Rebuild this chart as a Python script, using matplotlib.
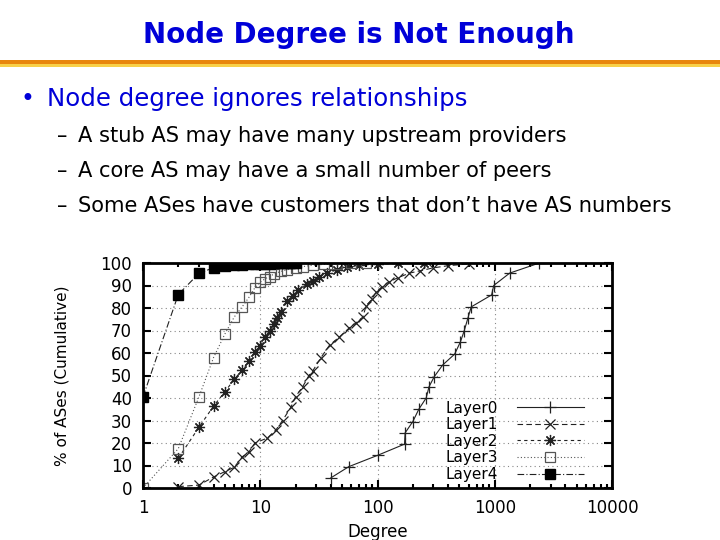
import matplotlib
matplotlib.use("Agg")
import matplotlib.pyplot as plt
from matplotlib.patches import Rectangle
from matplotlib.ticker import LogLocator, NullFormatter, FixedLocator, FixedFormatter

TITLE = "Node Degree is Not Enough"
BULLET = "Node degree ignores relationships"
SUB_BULLETS = ["A stub AS may have many upstream providers",
               "A core AS may have a small number of peers",
               "Some ASes have customers that don\u2019t have AS numbers"]

LAYER0_DEG = [40, 57, 100, 170, 172, 200, 225, 260, 275, 305, 360, 455, 510, 550,
              590, 630, 940, 980, 1340, 2400]
LAYER0_PCT = [4.5, 9.5, 14.5, 19.5, 24.5, 29.5, 35, 40, 45, 49.5, 54.7, 59.5, 65, 70,
              75.5, 80.5, 85.8, 90, 95.5, 100]

LAYER1_DEG = [2, 3, 4, 5, 6, 7, 8, 9, 11.5, 13.6, 15.5, 18.3, 20, 23, 26, 28, 33, 39,
              47, 57, 66, 75, 80, 90, 97, 110, 126, 150, 187, 230, 296, 400, 600]
LAYER1_PCT = [0.6, 1.3, 4.9, 7.3, 9.2, 13.8, 16, 20, 22.2, 25.8, 30, 36, 40.6, 45, 50,
              52, 58, 63.5, 67, 71, 73.5, 76, 81, 84, 87, 89.5, 91.7, 93.5, 95.5, 96.5,
              97.8, 98.8, 99.6]

LAYER2_DEG = [2, 3, 4, 5, 6, 7, 8, 9, 10, 11, 12, 13, 14, 15, 17, 19, 21, 25, 28, 32,
              37, 45, 55, 70, 100, 150, 250]
LAYER2_PCT = [13.2, 27, 36.4, 42.8, 48.3, 52.4, 56.4, 60.6, 63, 67, 70, 73, 75.5, 78.4,
              83, 85.5, 88, 90.5, 92, 94, 95.5, 97, 98, 99, 99.5, 99.8, 100]

LAYER3_DEG = [1, 2, 3, 4, 5, 6, 7, 8, 9, 10, 11, 12, 13, 15, 17, 20, 23, 28, 35, 45,
              60, 80]
LAYER3_PCT = [0, 17.5, 40.5, 58, 68.5, 76, 80.5, 84.7, 89, 91.5, 93, 94, 95, 96.3, 97,
              97.8, 98.4, 99, 99.4, 99.7, 100, 100]

LAYER4_DEG = [1, 2, 3, 4, 5, 6, 7, 8, 9, 10, 11, 12, 13, 14, 15, 16, 17, 18, 19, 20]
LAYER4_PCT = [40.5, 86, 95.4, 97.9, 98.6, 99, 99.2, 99.4, 99.5, 99.6, 99.7, 99.7,
              99.8, 99.8, 99.8, 99.9, 99.9, 99.9, 100, 100]

Y_TICKS = [0, 10, 20, 30, 40, 50, 60, 70, 80, 90, 100]
X_TICKS = [1, 10, 100, 1000, 10000]
X_LABELS = ["1", "10", "100", "1000", "10000"]

W, H = 720, 540
BLUE = "#0000d8"


def fy(py):
    # pixel row (from top) -> figure fraction
    return 1 - py / H


fig = plt.figure(figsize=(7.2, 5.4), dpi=100)
fig.patch.set_facecolor("white")

fig.text(359 / W, fy(35), TITLE, ha="center", va="center", fontsize=20,
         fontweight="bold", color=BLUE)
fig.add_artist(Rectangle((0, fy(63.5)), 1, 3.5 / H, transform=fig.transFigure,
                         facecolor="#e8860c", edgecolor="none"))
fig.add_artist(Rectangle((0, fy(66.5)), 1, 3 / H, transform=fig.transFigure,
                         facecolor="#f8d048", edgecolor="none"))

fig.text(20 / W, fy(99), "\u2022", ha="left", va="center", fontsize=17, color=BLUE)
fig.text(47 / W, fy(99), BULLET, ha="left", va="center", fontsize=17.6, color=BLUE)
for i, s in enumerate(SUB_BULLETS):
    y = fy(136 + 35 * i)
    fig.text(57 / W, y, "\u2013", ha="left", va="center", fontsize=15, color="black")
    fig.text(78 / W, y, s, ha="left", va="center", fontsize=15.1, color="black")

ax = fig.add_axes([143 / W, fy(488), (612 - 143) / W, (488 - 263) / H])
ax.set_xscale("log")
ax.set_xlim(1, 10000)
ax.set_ylim(0, 100)

ink = "#222222"
ax.plot(LAYER0_DEG, LAYER0_PCT, color=ink, lw=0.8, ls="-", marker="+", ms=9,
        mew=0.9, label="Layer0")
ax.plot(LAYER1_DEG, LAYER1_PCT, color=ink, lw=0.8, ls=(0, (5, 3)), marker="x", ms=7,
        mew=0.9, label="Layer1")
ax.plot(LAYER2_DEG, LAYER2_PCT, color=ink, lw=0.8, ls=(0, (3, 3)), marker=(8, 2, 0),
        ms=8, mew=0.9, label="Layer2")
ax.plot(LAYER3_DEG, LAYER3_PCT, color="#555555", lw=0.8, ls=(0, (1, 2)), marker="s",
        ms=7.5, mfc="none", mec="#555555", mew=0.9, label="Layer3")
ax.plot(LAYER4_DEG, LAYER4_PCT, color=ink, lw=0.8, ls=(0, (6, 2, 1, 2)), marker="s",
        ms=7.5, mfc="black", mec="black", label="Layer4")

ax.grid(True, which="major", ls=(0, (1, 3)), color="#888888", lw=0.8)
ax.yaxis.set_major_locator(FixedLocator(Y_TICKS))
ax.xaxis.set_major_locator(FixedLocator(X_TICKS))
ax.xaxis.set_major_formatter(FixedFormatter(X_LABELS))
ax.xaxis.set_minor_locator(LogLocator(base=10, subs=range(2, 10)))
ax.xaxis.set_minor_formatter(NullFormatter())
ax.tick_params(which="both", direction="in", top=True, right=True, labelsize=12,
               width=1.5, colors="black")
ax.tick_params(which="major", length=6, pad=8)
ax.tick_params(which="minor", length=3)
for sp in ax.spines.values():
    sp.set_linewidth(2)

ax.set_xlabel("Degree", fontsize=12, labelpad=4)
ax.set_ylabel("% of ASes (Cumulative)", fontsize=11, labelpad=22)

leg = ax.legend(loc="lower right", bbox_to_anchor=((590 - 143) / 469, 0.0),
                frameon=False, markerfirst=False, fontsize=11, handlelength=4.4,
                labelspacing=0.1, handletextpad=1.2, borderaxespad=0.0)

fig.savefig("out.png", dpi=100, facecolor="white")
